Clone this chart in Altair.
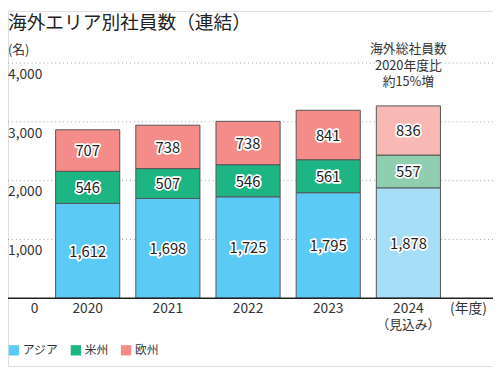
import altair as alt
import pandas as pd

years = ["2020", "2021", "2022", "2023", "2024"]
asia = [1612, 1698, 1725, 1795, 1878]
americas = [546, 507, 546, 561, 557]
europe = [707, 738, 738, 841, 836]
regions = ["アジア", "米州", "欧州"]
y_ticks = [1000, 2000, 3000, 4000]
note_lines = ["海外総社員数", "2020年度比", "約15%増"]

FONT = "Noto Sans CJK JP"
TXT = "#333333"

rows = []
for i, yr in enumerate(years):
    for j, (reg, vals) in enumerate(zip(regions, [asia, americas, europe])):
        key = reg + (" " if yr == "2024" else "")
        rows.append({"year": yr, "region": reg, "value": vals[i], "order": j, "key": key})
df = pd.DataFrame(rows)

color_domain = regions + [r + " " for r in regions]
color_range = ["#5BCBF5", "#1DB584", "#F48D89", "#A6DEF8", "#8FCFAF", "#F8B8B4"]

xscale = alt.Scale(domain=years, range=[40.25, 447.75], paddingInner=0.2, paddingOuter=0.1)
yscale = alt.Scale(domain=[0, 4000], range=[292, 53], nice=False, zero=True)

W, H = 493, 361

grid_df = pd.DataFrame({"v": y_ticks})
grid = alt.Chart(grid_df).mark_rule(color="#A0A0A0", strokeDash=[1, 3], strokeWidth=1).encode(
    y=alt.Y("v:Q", scale=yscale, axis=None), x=alt.value(0), x2=alt.value(W)
)
ylabels = alt.Chart(grid_df).mark_text(
    align="left", baseline="middle", dy=12, fontSize=14, font=FONT, color=TXT
).encode(y=alt.Y("v:Q", scale=yscale, axis=None), x=alt.value(0), text=alt.Text("v:Q", format=","))

bars = alt.Chart(df).mark_bar(stroke="#555555", strokeWidth=1).encode(
    x=alt.X("year:N", scale=xscale, axis=None),
    y=alt.Y("value:Q", stack="zero", scale=yscale, axis=None),
    color=alt.Color(
        "key:N",
        scale=alt.Scale(domain=color_domain, range=color_range),
        legend=alt.Legend(
            values=regions, orient="none", legendX=0, legendY=339, direction="horizontal",
            title=None, symbolType="square", symbolSize=110, symbolStrokeWidth=0,
            labelFontSize=12, labelFont=FONT, labelColor=TXT, columnPadding=11,
            labelOffset=3, padding=0,
        ),
    ),
    order=alt.Order("order:Q"),
)

stacked = alt.Chart(df).transform_stack(
    stack="value", groupby=["year"], sort=[alt.SortField("order")], as_=["y0", "y1"]
).transform_calculate(mid="(datum.y0 + datum.y1) / 2")

halo = stacked.mark_text(
    fontSize=15, font=FONT, stroke="white", strokeWidth=3.5, strokeJoin="round", color="white",
    baseline="middle", dy=1
).encode(x=alt.X("year:N", scale=xscale, axis=None), y=alt.Y("mid:Q", scale=yscale, axis=None),
         text=alt.Text("value:Q", format=","))
seglabels = stacked.mark_text(
    fontSize=15, font=FONT, color="#222222", baseline="middle", dy=1
).encode(x=alt.X("year:N", scale=xscale, axis=None), y=alt.Y("mid:Q", scale=yscale, axis=None),
         text=alt.Text("value:Q", format=","))

base_df = pd.DataFrame({"v": [0]})
axis_line = alt.Chart(base_df).mark_rule(color="#222222", strokeWidth=1.5).encode(
    y=alt.Y("v:Q", scale=yscale, axis=None), x=alt.value(0), x2=alt.value(W)
)
zero_lbl = alt.Chart(base_df).mark_text(fontSize=14, font=FONT, color=TXT, baseline="middle", dy=11).encode(
    y=alt.Y("v:Q", scale=yscale, axis=None), x=alt.value(27), text=alt.Text("v:Q")
)
unit_x = alt.Chart(base_df).mark_text(fontSize=14, font=FONT, color=TXT, baseline="middle", dy=11,
                                      text="(年度)").encode(
    y=alt.Y("v:Q", scale=yscale, axis=None), x=alt.value(468)
)

yr_df = pd.DataFrame({"year": years, "v": [0] * len(years)})
xlabels = alt.Chart(yr_df).mark_text(fontSize=14, font=FONT, color=TXT, baseline="middle", dy=11).encode(
    x=alt.X("year:N", scale=xscale, axis=None), y=alt.Y("v:Q", scale=yscale, axis=None), text="year:N"
)
est_df = pd.DataFrame({"year": [years[-1]], "v": [0]})
est_lbl = alt.Chart(est_df).mark_text(fontSize=13, font=FONT, color=TXT, baseline="middle", dy=27,
                                      text="（見込み）").encode(
    x=alt.X("year:N", scale=xscale, axis=None), y=alt.Y("v:Q", scale=yscale, axis=None)
)

note_df = pd.DataFrame({"year": [years[-1]], "total": [asia[-1] + americas[-1] + europe[-1]],
                        "txt": [note_lines]})
note = alt.Chart(note_df).mark_text(fontSize=13, font=FONT, color=TXT, baseline="middle",
                                    lineHeight=17, dy=-58).encode(
    x=alt.X("year:N", scale=xscale, axis=None), y=alt.Y("total:Q", scale=yscale, axis=None), text="txt"
)

title = alt.Chart(base_df).mark_text(fontSize=19, font=FONT, fontWeight="normal", color="#222222",
                                     align="left", baseline="middle",
                                     text="海外エリア別社員数（連結）").encode(x=alt.value(0), y=alt.value(12))
unit_y = alt.Chart(base_df).mark_text(fontSize=13, font=FONT, color=TXT, align="left", baseline="middle",
                                      text="(名)").encode(x=alt.value(0), y=alt.value(40))

chart = alt.layer(
    grid, ylabels, bars, halo, seglabels, axis_line, zero_lbl, unit_x, xlabels, est_lbl, note, title, unit_y
).properties(
    width=W, height=H, autosize=alt.AutoSizeParams(type="none"), padding=0
).configure_view(stroke=None).configure(font=FONT)

chart.save("out.html", embed_options={"renderer": "svg", "actions": False})
